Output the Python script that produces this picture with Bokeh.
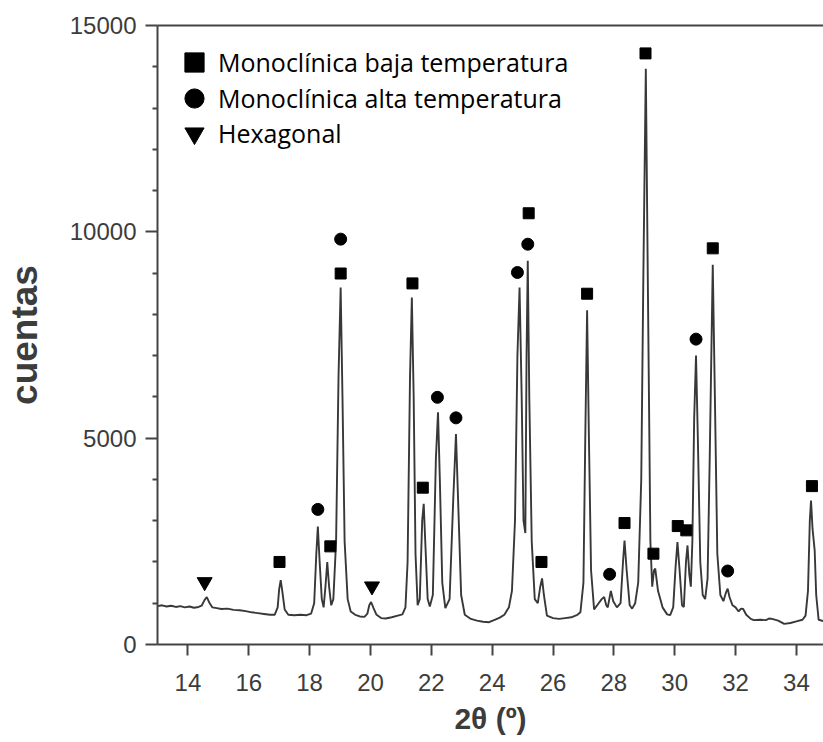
from bokeh.plotting import figure
from bokeh.models import (Range1d, FixedTicker, LinearAxis, Legend, LegendItem)
from bokeh.embed import file_html
from bokeh.resources import INLINE

# ---- data ----
two_theta = [13.0, 13.15, 13.3, 13.45, 13.6, 13.75, 13.9, 14.05, 14.2, 14.35, 14.45, 14.55, 14.62, 14.7, 14.8,
             14.95, 15.1, 15.3, 15.5, 15.7, 15.9, 16.1, 16.3, 16.5, 16.7, 16.85, 16.95, 17.0, 17.05, 17.1,
             17.18, 17.3, 17.5, 17.7, 17.9, 18.05, 18.15, 18.22, 18.27, 18.33, 18.4, 18.46, 18.52, 18.58, 18.64,
             18.71, 18.78, 18.87, 18.95, 19.02, 19.08, 19.15, 19.25, 19.35, 19.5, 19.65, 19.8, 19.9, 19.96, 20.02,
             20.1, 20.2, 20.35, 20.5, 20.7, 20.9, 21.05, 21.15, 21.22, 21.3, 21.36, 21.42, 21.48, 21.55, 21.62,
             21.7, 21.75, 21.8, 21.88, 21.95, 22.05, 22.15, 22.22, 22.28, 22.36, 22.46, 22.6, 22.72, 22.81, 22.88,
             22.98, 23.1, 23.3, 23.5, 23.7, 23.9, 24.1, 24.25, 24.4, 24.55, 24.65, 24.75, 24.83, 24.9, 24.97,
             25.03, 25.09, 25.13, 25.17, 25.22, 25.3, 25.4, 25.5, 25.58, 25.64, 25.7, 25.8, 26.0, 26.2, 26.4,
             26.6, 26.8, 26.9, 27.0, 27.06, 27.12, 27.18, 27.25, 27.35, 27.5, 27.6, 27.68, 27.75, 27.8, 27.9,
             27.98, 28.1, 28.22, 28.3, 28.35, 28.42, 28.52, 28.6, 28.7, 28.8, 28.9, 28.97, 29.05, 29.12, 29.2,
             29.26, 29.32, 29.36, 29.45, 29.6, 29.75, 29.85, 29.95, 30.03, 30.09, 30.16, 30.24, 30.3, 30.37, 30.42,
             30.48, 30.53, 30.58, 30.64, 30.7, 30.76, 30.84, 30.92, 31.0, 31.08, 31.15, 31.25, 31.32, 31.4, 31.5,
             31.6, 31.68, 31.74, 31.8, 31.9, 32.0, 32.1, 32.18, 32.25, 32.35, 32.5, 32.6, 32.8, 33.0, 33.1,
             33.2, 33.4, 33.6, 33.8, 34.0, 34.2, 34.3, 34.38, 34.44, 34.48, 34.53, 34.6, 34.65, 34.73, 34.88]
counts = [930, 950, 920, 940, 910, 930, 900, 920, 890, 910, 940, 1080, 1150, 1020, 900,
          880, 860, 870, 840, 830, 810, 780, 760, 740, 720, 720, 900, 1350, 1560, 1300,
          850, 720, 710, 720, 710, 750, 1000, 2200, 2860, 2000, 1100, 900, 1400, 2000, 1400,
          950, 1100, 2500, 6500, 8650, 6000, 2500, 1100, 800, 720, 680, 670, 750, 950, 1030,
          880, 720, 640, 630, 660, 700, 730, 900, 2000, 6500, 8410, 6000, 2200, 950, 1100,
          3000, 3410, 2500, 1100, 920, 1200, 4500, 5630, 4000, 1500, 880, 1100, 3500, 5100, 3500,
          1200, 720, 620, 580, 550, 540, 600, 650, 720, 900, 1300, 3000, 7000, 8650, 6000,
          3000, 2700, 7000, 9300, 6000, 2500, 1100, 1000, 1400, 1600, 1200, 700, 640, 620, 640,
          660, 720, 780, 1500, 5000, 8100, 5000, 1800, 850, 1000, 1100, 1150, 950, 900, 1300,
          1050, 900, 1000, 2000, 2520, 1800, 950, 870, 1000, 1500, 4000, 9000, 13950, 8500, 2500,
          1400, 1800, 1840, 1300, 900, 730, 710, 900, 1900, 2480, 1800, 950, 910, 2000, 2400,
          1700, 1400, 2500, 5500, 7000, 5000, 2000, 1200, 1100, 1600, 4500, 9200, 6000, 2200, 1200,
          1050, 1250, 1355, 1150, 950, 900, 800, 870, 860, 720, 620, 590, 600, 590, 630,
          620, 580, 500, 520, 560, 600, 700, 1300, 3000, 3490, 2800, 2280, 1200, 600, 570]

baja_x = [17.01, 18.68, 19.02, 21.38, 21.72, 25.2, 25.62, 27.12, 28.35, 29.04, 29.3, 30.1, 30.38, 31.25, 34.51]
baja_y = [2000, 2378, 8990, 8750, 3800, 10450, 2000, 8500, 2943, 14324, 2201, 2870, 2766, 9600, 3838]
alta_x = [18.27, 19.02, 22.2, 22.81, 24.83, 25.17, 27.86, 30.7, 31.74]
alta_y = [3274, 9823, 5990, 5492, 9015, 9700, 1701, 7400, 1781]
hex_x = [14.55, 20.05]
hex_y = [1515, 1411]

legend_labels = ["Monoclínica baja temperatura", "Monoclínica alta temperatura", "Hexagonal"]
x_ticks = [14, 16, 18, 20, 22, 24, 26, 28, 30, 32, 34]
y_ticks = [0, 5000, 10000, 15000]
y_minor = [1000, 2000, 3000, 4000, 6000, 7000, 8000, 9000, 11000, 12000, 13000, 14000]

AX = "#444444"
TXT = "#3c3c3c"

p = figure(width=823, height=742, output_backend="svg", toolbar_location=None,
           x_range=Range1d(13, 34.89), y_range=Range1d(0, 15000),
           min_border_left=157, min_border_right=0, min_border_top=25, min_border_bottom=98)
p.outline_line_color = None
p.grid.visible = False
p.background_fill_color = "white"
p.border_fill_color = "white"

p.line(two_theta, counts, line_color="#383838", line_width=1.9)

r_sq = p.scatter(baja_x, baja_y, marker="square", size=11, fill_color="black", line_color="black")
r_ci = p.scatter(alta_x, alta_y, marker="circle", size=12, fill_color="black", line_color="black")
r_tr = p.scatter(hex_x, hex_y, marker="inverted_triangle", size=15, fill_color="black", line_color="black")

# axes
xa = p.xaxis[0]
xa.ticker = FixedTicker(ticks=x_ticks)
xa.axis_label = "2θ (º)"
ya = p.yaxis[0]
ya.ticker = FixedTicker(ticks=y_ticks, minor_ticks=y_minor)
ya.axis_label = "cuentas"
for ax in (xa, ya):
    ax.axis_line_color = AX
    ax.axis_line_width = 2
    ax.major_tick_line_color = AX
    ax.major_tick_line_width = 2
    ax.minor_tick_line_color = AX
    ax.minor_tick_line_width = 2
    ax.major_tick_in = 0
    ax.minor_tick_in = 0
    ax.major_label_text_font = "Liberation Sans"
    ax.major_label_text_font_size = "24px"
    ax.major_label_text_color = TXT
    ax.axis_label_text_font = "Liberation Sans"
    ax.axis_label_text_font_style = "bold"
    ax.axis_label_text_color = TXT
xa.major_tick_out = 11
xa.minor_tick_out = 0
xa.major_label_standoff = 18
xa.axis_label_text_font_size = "30px"
xa.axis_label_standoff = 8
ya.major_tick_out = 12
ya.minor_tick_out = 5
ya.major_label_standoff = 9
ya.axis_label_text_font_size = "37px"
ya.axis_label_standoff = 22

top = LinearAxis(ticker=FixedTicker(ticks=[]), major_label_text_font_size="0px",
                 axis_line_color=AX, axis_line_width=2, major_tick_out=0, minor_tick_out=0)
p.add_layout(top, "above")

# one legend per row (offsets from the frame's bottom-left corner, in pixels)
row_offsets = [558, 522, 487]
for lab, rend, vy in zip(legend_labels, [r_sq, r_ci, r_tr], row_offsets):
    lg = Legend(items=[LegendItem(label=lab, renderers=[rend])],
                location=(13, vy), margin=0, padding=0, spacing=0,
                glyph_width=48, glyph_height=48, label_height=48, label_standoff=-3,
                label_text_font="Open Sans", label_text_font_size="25px", label_text_color="black",
                border_line_color=None, background_fill_alpha=0)
    p.add_layout(lg)

open("out.html", "w").write(file_html(p, INLINE))
